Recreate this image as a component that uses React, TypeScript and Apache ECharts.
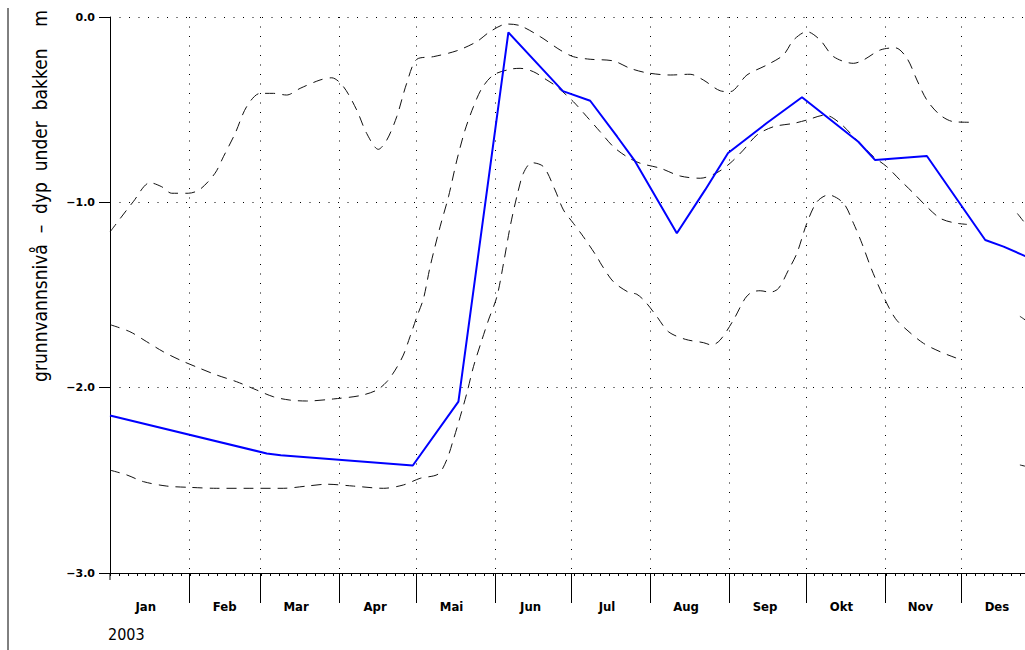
import React, { useEffect, useRef } from "react";
import * as echarts from "echarts";

// Day-of-year (0 = 1 Jan) where each month begins, and where its label sits (the 15th)
const monthStarts = [31, 59, 90, 120, 151, 181, 212, 243, 273, 304, 334];
const monthLabelDays = [14, 45, 73, 104, 134, 165, 195, 226, 257, 287, 318, 348];
const monthNames = ["Jan", "Feb", "Mar", "Apr", "Mai", "Jun", "Jul", "Aug", "Sep", "Okt", "Nov", "Des"];
const yearLabel = "2003";
const yAxisTitle = "grunnvannsniv\u00e5\u00a0\u00a0\u2013\u00a0\u00a0dyp\u00a0\u00a0under\u00a0\u00a0bakken\u00a0\u00a0\u00a0\u00a0m";

// Observed groundwater level 2003, [day of year, metres below ground]
const observed = [
  [0, -2.15], [61.5, -2.355], [67, -2.365], [118.8, -2.42], [136.7, -2.075],
  [156.3, -0.083], [177.7, -0.4], [188.4, -0.452], [199, -0.646], [205.7, -0.772],
  [222.4, -1.167], [233.5, -0.933], [242.5, -0.734], [257.7, -0.572], [271.5, -0.433],
  [293.6, -0.673], [300.2, -0.772], [320.5, -0.75], [343.4, -1.203], [350.6, -1.239],
  [359.1, -1.29], [364, -1.317],
];

// Highest recorded level for each day of the year
const maxLevel = [
  [0, -1.16], [9.1, -0.997], [15.7, -0.894], [20.3, -0.916], [24.2, -0.951], [30.7, -0.951],
  [35.3, -0.93], [41.2, -0.843], [44.5, -0.754], [49.1, -0.628], [53.6, -0.484], [58.9, -0.412],
  [64.1, -0.412], [69.3, -0.421], [74.6, -0.385], [82.4, -0.34], [87, -0.328], [91.6, -0.376],
  [96.8, -0.502], [100.7, -0.628], [105.3, -0.714], [108.6, -0.664], [112.5, -0.538],
  [116.4, -0.358], [120.4, -0.228], [126.9, -0.214], [136.1, -0.182], [143.9, -0.133],
  [149.1, -0.079], [155.7, -0.038], [160.9, -0.047], [168.8, -0.106], [176.6, -0.178],
  [181.8, -0.214], [188.4, -0.228], [197.5, -0.237], [204.1, -0.277], [210.6, -0.301],
  [219.8, -0.313], [227.6, -0.309], [232.8, -0.34], [239.4, -0.398], [243.3, -0.403],
  [249.9, -0.313], [257.7, -0.259], [264.2, -0.205], [268.2, -0.124], [273.4, -0.079],
  [278.6, -0.124], [283.9, -0.214], [291.7, -0.25], [295.6, -0.232], [302.2, -0.178],
  [308.1, -0.166], [312.7, -0.223], [316.6, -0.34], [320.5, -0.448], [325.7, -0.529],
  [331, -0.565], [337.5, -0.568], [346, "-"], [356, -1.06], [364, -1.2],
];

// Median level for each day of the year
const medianLevel = [
  [0, -1.66], [7.8, -1.698], [14.4, -1.752], [20.9, -1.806], [27.5, -1.851], [35.3, -1.896],
  [41.9, -1.932], [49.7, -1.968], [57.6, -2.013], [64.1, -2.049], [70.6, -2.067], [77.2, -2.072],
  [87.6, -2.061], [98.1, -2.043], [104.7, -2.013], [108.6, -1.968], [111.9, -1.905],
  [115.1, -1.824], [117.7, -1.725], [120.4, -1.617], [123, -1.519], [125.6, -1.347],
  [129.5, -1.132], [132.8, -0.97], [136.1, -0.772], [139.3, -0.61], [142.6, -0.484],
  [145.9, -0.385], [150.4, -0.313], [157, -0.282], [160.9, -0.277], [166.1, -0.295],
  [171.4, -0.34], [175.3, -0.376], [181.8, -0.457], [187.1, -0.538], [192.3, -0.619],
  [197.5, -0.7], [202.8, -0.754], [208, -0.789], [215.9, -0.816], [223.7, -0.858],
  [231.6, -0.87], [238.1, -0.84], [243.3, -0.789], [248.5, -0.718], [253.8, -0.637],
  [260.3, -0.592], [268.2, -0.574], [273.4, -0.556], [280.6, -0.529], [286.5, -0.574],
  [293, -0.664], [299.6, -0.754], [304.8, -0.808], [310, -0.88], [315.3, -0.951],
  [320.5, -1.024], [325.7, -1.086], [331, -1.11], [336.2, -1.119], [346, "-"],
  [357, -1.615], [364, -1.68],
];

// Lowest recorded level for each day of the year
const minLevel = [
  [0, -2.445], [6.6, -2.471], [13.1, -2.507], [22.3, -2.531], [31.4, -2.538], [41.9, -2.543],
  [54.9, -2.543], [68, -2.543], [77.2, -2.531], [85, -2.521], [95.5, -2.531], [107.3, -2.543],
  [115.1, -2.525], [121.7, -2.489], [128.8, -2.466], [132.1, -2.39], [134.7, -2.282],
  [137.4, -2.157], [140, -2.03], [142.6, -1.887], [145.9, -1.743], [148.5, -1.635],
  [151.8, -1.509], [154.4, -1.329], [157, -1.131], [159.6, -0.97], [162.2, -0.843],
  [165.5, -0.786], [170.1, -0.808], [174.6, -0.933], [177.9, -1.041], [181.8, -1.113],
  [185.7, -1.185], [191, -1.293], [192.9, -1.338], [197.5, -1.428], [203.4, -1.485],
  [206.7, -1.496], [210, -1.536], [214.6, -1.617], [219.1, -1.698], [225.7, -1.739],
  [232.8, -1.757], [236.1, -1.77], [239.4, -1.743], [244.6, -1.635], [249.2, -1.518],
  [251.8, -1.485], [255.1, -1.477], [259, -1.485], [262.3, -1.464], [266.2, -1.365],
  [269.5, -1.275], [273.4, -1.113], [277.4, -0.997], [281.9, -0.96], [287.8, -1.005],
  [291.7, -1.113], [295, -1.221], [298.9, -1.365], [303.5, -1.509], [308.1, -1.626],
  [312.7, -1.689], [319.2, -1.761], [325.7, -1.806], [331.6, -1.838], [334.6, -1.851],
  [346, "-"], [357, -2.417], [364, -2.44],
];

const narrowFont = "'Liberation Sans Narrow', 'DejaVu Sans Condensed', 'Arial Narrow', sans-serif";
const dotted = [1, 8.5];
const dashed = [10, 7];

function dashedSeries(name: string, data: any[]) {
  return {
    name,
    type: "line",
    data,
    showSymbol: false,
    symbol: "none",
    smooth: 0.3,
    connectNulls: false,
    clip: true,
    lineStyle: { color: "#111", width: 1, type: dashed },
    z: 2,
  };
}

export default function App() {
  const ref = useRef<HTMLDivElement>(null);

  useEffect(() => {
    if (!ref.current) return;
    const chart = echarts.init(ref.current, null, { renderer: "svg" });
    chart.setOption({
      animation: false,
      backgroundColor: "#fff",
      grid: { left: 110, right: 0, top: 17, bottom: 77, outerBoundsMode: "none", containLabel: false },
      xAxis: [
        {
          type: "value",
          min: 0,
          max: 359,
          position: "bottom",
          axisLine: { show: true, onZero: false, lineStyle: { color: "#000", width: 1 } },
          axisTick: {
            show: true,
            customValues: monthStarts,
            length: 30,
            inside: false,
            lineStyle: { color: "#000", width: 1 },
          },
          axisLabel: {
            show: true,
            customValues: monthLabelDays,
            margin: 27,
            color: "#000",
            fontFamily: narrowFont,
            fontWeight: "bold",
            fontSize: 13,
            formatter: (v: number) => monthNames[monthLabelDays.indexOf(Math.round(v))] ?? "",
          },
          splitLine: { show: true, lineStyle: { color: "#000", width: 1, type: dotted } },
        },
        {
          type: "value",
          min: 0,
          max: 359,
          interval: 3.5,
          position: "bottom",
          axisLine: { show: false, onZero: false },
          axisTick: { show: true, length: 3, inside: false, lineStyle: { color: "#000", width: 1 } },
          axisLabel: { show: false },
          splitLine: { show: false },
        },
      ],
      yAxis: {
        type: "value",
        min: -3,
        max: 0,
        interval: 1,
        axisLine: { show: true, onZero: false, lineStyle: { color: "#000", width: 1 } },
        axisTick: { show: true, length: 11, inside: false, lineStyle: { color: "#000", width: 1 } },
        axisLabel: {
          color: "#000",
          margin: 15,
          fontFamily: "'DejaVu Sans', sans-serif",
          fontWeight: "bold",
          fontSize: 11,
          formatter: (v: number) => (v < 0 ? "\u2212" + Math.abs(v).toFixed(1) : v.toFixed(1)),
        },
        splitLine: { show: true, lineStyle: { color: "#000", width: 1, type: dotted } },
      },
      graphic: [
        {
          type: "line",
          shape: { x1: 8, y1: 8, x2: 8, y2: 650 },
          style: { stroke: "#000", lineWidth: 1 },
          silent: true,
        },
        {
          type: "line",
          shape: { x1: 110, y1: 573, x2: 110, y2: 580 },
          style: { stroke: "#000", lineWidth: 1 },
          silent: true,
        },
        {
          type: "text",
          x: 40,
          y: 196,
          rotation: Math.PI / 2,
          style: {
            text: yAxisTitle,
            fill: "#000",
            font: `19px ${narrowFont}`,
            align: "center",
            verticalAlign: "middle",
          },
          silent: true,
        },
        {
          type: "text",
          x: 108,
          y: 634,
          style: {
            text: yearLabel,
            fill: "#000",
            font: `16px ${narrowFont}`,
            align: "left",
            verticalAlign: "middle",
          },
          silent: true,
        },
      ],
      series: [
        dashedSeries("Maks", maxLevel),
        dashedSeries("Median", medianLevel),
        dashedSeries("Min", minLevel),
        {
          name: "2003",
          type: "line",
          data: observed,
          showSymbol: false,
          symbol: "none",
          clip: true,
          lineStyle: { color: "#0000ff", width: 2 },
          z: 3,
        },
      ],
    });
    return () => chart.dispose();
  }, []);

  return (
    <div
      ref={ref}
      style={{ position: "fixed", left: 0, top: 0, width: 1025, height: 650, background: "#fff" }}
    />
  );
}
